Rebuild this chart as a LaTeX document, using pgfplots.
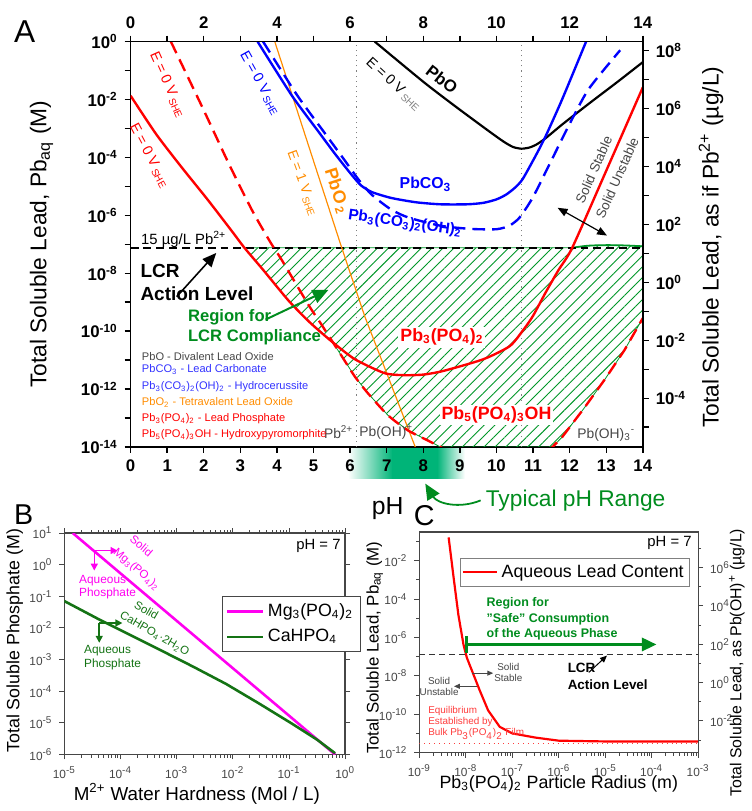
\documentclass[border=0pt]{standalone}
\usepackage{pgfplots}
\pgfplotsset{compat=1.18}
\usepackage{fontspec}
\setmainfont{Liberation Sans}
\usetikzlibrary{patterns.meta,arrows.meta}

\definecolor{cred}{RGB}{255,0,0}
\definecolor{cblue}{RGB}{0,0,255}
\definecolor{corange}{RGB}{255,140,0}
\definecolor{chatch}{RGB}{0,150,40}
\definecolor{cgreen}{RGB}{0,140,30}
\definecolor{cteal}{RGB}{0,180,120}
\definecolor{cmag}{RGB}{255,0,240}
\definecolor{cdkgreen}{RGB}{20,115,20}
\definecolor{cgray}{RGB}{70,70,70}
\definecolor{cpink}{RGB}{255,60,60}

\newcommand{\bp}[1]{\textbf{10\textsuperscript{#1}}}
\newcommand{\tp}[1]{10\textsuperscript{#1}}
\newcommand{\sub}[1]{\textsubscript{#1}}
\newcommand{\spp}[1]{\textsuperscript{#1}}
\newcommand{\fsz}[1]{\fontsize{#1}{#1}\selectfont}

\begin{document}
\begin{tikzpicture}
% pixel frame of the reference (0.5pt per px, y down)
\begin{scope}[x=0.5pt,y=-0.5pt]
\useasboundingbox (0,0) rectangle (752,811);
\shade[left color=white,right color=cteal] (350,453) rectangle (395,484);
\fill[cteal] (394.5,453) rectangle (440.5,484);
\shade[left color=cteal,right color=white] (440,453) rectangle (468,484);
\end{scope}

% ---------------- panel A ----------------
\begin{axis}[
  at={(65pt,-226pt)}, anchor=south west,
  scale only axis, width=259pt, height=205pt,
  xmin=0, xmax=14, ymin=-14, ymax=0,
  xtick={0,1,...,14},
  ytick={-14,-12,...,0}, minor ytick={-13,-11,...,-1},
  xtick pos=bottom, ytick pos=left,
  tick align=outside, major tick length=3pt, minor tick length=3pt,
  tick style={black,line width=0.7pt},
  axis line style={line width=0.8pt},
  /pgf/number format/assume math mode=true,
  tick label style={font=\fontsize{8.5}{9}\selectfont\bfseries},
  yticklabel={\bp{\pgfmathprintnumber{\tick}}},
]
% region for LCR compliance
\addplot[draw=chatch, line width=0.4pt,
  pattern={Lines[angle=45,distance=3.9pt,line width=0.45pt]}, pattern color=chatch]
  coordinates {(3.11,-7.12) (12.07,-7.12) (12.5,-7.05) (13,-7.03) (14,-7.06)
  (14,-9.55) (13.5,-10.65) (12.97,-11.65) (12.4,-12.65) (11.8,-13.65) (11.53,-14)
  (8.47,-14) (8.1,-13.76) (7.57,-13.42) (7.03,-12.9) (6.49,-12.15) (6.13,-11.57)
  (5.77,-10.86) (5.5,-10.34) (4.9,-9.7) (4.32,-8.95) (3.6,-7.85)} --cycle;
\addplot[chatch, line width=0.9pt, smooth] coordinates {(12.07,-7.12) (12.5,-7.05) (13,-7.03) (13.5,-7.04) (14,-7.07)};
% reference lines
\addplot[gray, dotted, line width=0.6pt] coordinates {(6.17,-14) (6.17,0)};
\addplot[gray, dotted, line width=0.6pt] coordinates {(10.68,-14) (10.68,0)};
\addplot[black, line width=1.1pt, dash pattern=on 4pt off 2.5pt] coordinates {(0,-7.12) (14,-7.12)};
% PbO2
\addplot[corange, line width=0.6pt] coordinates {(3.94,0) (5.77,-7.12) (6.4,-9.49) (7.78,-14) (7.85,-14.2)};
% PbO
\addplot[black, line width=1.1pt, smooth, tension=0.4] coordinates {(6.67,0) (8.02,-1.41) (8.92,-2.28) (9.82,-3.12) (10.2,-3.46) (10.45,-3.64) (10.68,-3.7) (10.9,-3.66) (11.1,-3.55) (11.35,-3.33) (11.8,-2.86) (12.52,-2.15) (13.3,-1.4) (14,-0.71)};
% PbCO3
\addplot[cblue, line width=1.2pt, smooth, tension=0.4] coordinates {(3.47,0) (4.41,-1.87) (5.14,-3.12) (5.6,-3.9) (6.04,-4.6) (6.3,-4.97) (6.6,-5.2) (7.12,-5.4) (7.8,-5.55) (8.47,-5.62) (9.2,-5.62) (9.64,-5.57) (10.0,-5.45) (10.27,-5.28) (10.52,-5.03) (10.72,-4.74) (11.08,-3.92) (11.35,-3.25) (11.8,-1.98) (12.45,0)};
% Pb3(CO3)2(OH)2
\addplot[cblue, line width=1.2pt, smooth, tension=0.4, dash pattern=on 6.5pt off 3.5pt] coordinates {(3.62,0) (4.55,-1.85) (5.3,-3.15) (5.85,-4.1) (6.25,-4.8) (6.6,-5.3) (7.12,-5.8) (7.6,-6.08) (8.47,-6.36) (9.3,-6.47) (10.0,-6.48) (10.35,-6.36) (10.63,-6.08) (10.99,-5.39) (11.44,-4.26) (11.98,-2.89) (12.52,-1.64) (13.38,-0.3)};
% Pb5(PO4)3OH
\addplot[cred, line width=1.2pt, smooth, tension=0.4, dash pattern=on 6.5pt off 3.5pt] coordinates {(1.1,0) (1.98,-2.32) (2.7,-4.26) (3.33,-5.85) (3.83,-6.95) (4.14,-7.56) (4.86,-9.09) (5.18,-9.7) (5.5,-10.33) (5.77,-10.86) (6.13,-11.57) (6.49,-12.15) (7.03,-12.9) (7.57,-13.42) (8.1,-13.76) (8.47,-14) (8.6,-14.1)};
\addplot[cred, line width=1.2pt, dash pattern=on 6.5pt off 3.5pt] coordinates {(11.4,-14.15) (11.53,-14) (11.8,-13.65) (12.4,-12.65) (12.97,-11.65) (13.5,-10.65) (14,-9.55)};
% Pb3(PO4)2
\addplot[cred, line width=1.2pt, smooth, tension=0.4] coordinates {(0,-1.87) (0.7,-3.2) (1.4,-4.35) (2.1,-5.45) (2.8,-6.6) (3.11,-7.12) (3.6,-7.85) (4.32,-8.95) (4.9,-9.7) (5.5,-10.36) (6.13,-10.97) (6.94,-11.45) (7.48,-11.52) (8.0,-11.5) (8.56,-11.37) (9.64,-10.97) (10.36,-10.52) (10.72,-9.98) (10.99,-9.49) (11.35,-8.65) (11.7,-7.88) (12.07,-7.12) (13,-4.46) (14,-1.58)};

% curve labels
\node[cred, rotate=-62, font=\fsz{7.2}] at (0.52,-3.95) {E = 0 V\,\sub{SHE}};
\node[cred, rotate=-66, font=\fsz{7.2}] at (1.02,-1.5) {E = 0 V\,\sub{SHE}};
\node[cblue, rotate=-61, font=\fsz{7.2}] at (3.55,-1.45) {E = 0 V\,\sub{SHE}};
\node[corange, rotate=-70, font=\fsz{7}] at (4.7,-4.9) {E = 1 V\,\sub{SHE}};
\node[corange, rotate=-72, font=\fsz{9}\bfseries] at (5.64,-5.17) {PbO\,\sub{2}};
\node[black, rotate=-43, font=\fsz{7.2}] at (7.2,-1.48) {E = 0 V\,\textcolor{gray}{\sub{SHE}}};
\node[black, rotate=-38, font=\fsz{8.5}\bfseries] at (8.51,-1.3) {PbO};
\node[cblue, font=\fsz{8}\bfseries] at (8.06,-4.94) {PbCO\sub{3}};
\node[cblue, rotate=-8, font=\fsz{7.8}\bfseries] at (7.5,-6.28) {Pb\sub{3}(CO\sub{3})\sub{2}(OH)\sub{2}};
\node[cgray, rotate=66, font=\fsz{6.8}] at (12.66,-4.43) {Solid Stable};
\node[cgray, rotate=66, font=\fsz{6.8}] at (13.3,-4.71) {Solid Unstable};
\draw[black, line width=0.6pt, {Triangle[length=5pt,width=4pt]}-{Triangle[length=5pt,width=4pt]}] (11.67,-5.74) -- (13.02,-6.7);
\node[anchor=west, font=\fsz{7.5}] at (0.1,-6.83) {15 µg/L Pb\spp{2+}};
\node[anchor=west, align=left, font=\fontsize{9.6}{11.5}\selectfont\bfseries] at (0.08,-8.31) {LCR\\Action Level};
\draw[black, line width=0.8pt, -{Triangle[length=7pt,width=6pt]}] (1.26,-8.81) -- (2.34,-7.3);
\node[cgreen, anchor=west, align=left, font=\fontsize{8.4}{10}\selectfont\bfseries] at (1.38,-9.87) {Region for\\LCR Compliance};
\draw[cgreen, line width=1pt, -{Triangle[length=8pt,width=7pt]}] (3.69,-9.6) -- (5.41,-8.57);
\node[cred, fill=white, inner sep=1pt, font=\fsz{9}\bfseries] at (8.51,-10.21) {Pb\sub{3}(PO\sub{4})\sub{2}};
\node[cred, fill=white, inner sep=1pt, font=\fsz{9}\bfseries] at (10.0,-12.9) {Pb\sub{5}(PO\sub{4})\sub{3}OH};
\node[cgray, anchor=east, inner sep=1pt, font=\fsz{7}] at (6.15,-13.49) {Pb\spp{2+}};
\node[cgray, anchor=west, inner sep=1pt, font=\fsz{7}] at (6.19,-13.49) {Pb(OH)\spp{+}};
\node[cgray, font=\fsz{7}] at (13.0,-13.59) {Pb(OH)\sub{3}\spp{-}};
% species list
\node[anchor=west, cgray, font=\fsz{5.6}] at (0.12,-10.86) {PbO - Divalent Lead Oxide};
\node[anchor=west, cblue!80!white, font=\fsz{5.6}] at (0.12,-11.33) {PbCO\sub{3} - Lead Carbonate};
\node[anchor=west, cblue!80!white, font=\fsz{5.6}] at (0.12,-11.92) {Pb\sub{3}(CO\sub{3})\sub{2}(OH)\sub{2} - Hydrocerussite};
\node[anchor=west, corange, font=\fsz{5.6}] at (0.12,-12.46) {PbO\sub{2} - Tetravalent Lead Oxide};
\node[anchor=west, cred, font=\fsz{5.6}] at (0.12,-13.01) {Pb\sub{3}(PO\sub{4})\sub{2} - Lead Phosphate};
\node[anchor=west, cred, font=\fsz{5.6}] at (0.12,-13.59) {Pb\sub{5}(PO\sub{4})\sub{3}OH - Hydroxypyromorphite};
\end{axis}

% top and right axes of panel A
\begin{axis}[
  at={(65pt,-226pt)}, anchor=south west,
  scale only axis, width=259pt, height=205pt,
  xmin=0, xmax=14, ymin=-5.684, ymax=8.316,
  axis x line*=top, axis y line*=right, axis line style={-,line width=0.8pt},
  xtick={0,2,...,14}, minor xtick={1,3,...,13},
  ytick={-4,-2,...,8}, minor ytick={-5,-3,...,7},
  tick align=outside, major tick length=3pt, minor tick length=3pt,
  tick style={black,line width=0.7pt},
  /pgf/number format/assume math mode=true,
  tick label style={font=\fontsize{8.5}{9}\selectfont\bfseries},
  yticklabel={\bp{\pgfmathprintnumber{\tick}}},
]
\addplot[draw=none] coordinates {(0,0)};
\end{axis}

% ---------------- panel B ----------------
\begin{axis}[
  at={(31.5pt,-381.5pt)}, anchor=south west,
  scale only axis, width=142pt, height=112pt,
  xmode=log, ymode=log, xmin=1e-5, xmax=1, ymin=1e-6, ymax=10,
  ytick={1e-6,1e-5,1e-4,1e-3,1e-2,1e-1,1,10}, yminorticks=false,
  tick align=outside, major tick length=2.5pt, minor tick length=1.5pt,
  axis line style={cgray,line width=0.7pt}, tick style={cgray,line width=0.5pt},
  tick label style={font=\fsz{6}, text=cgray},
  log number format basis/.code 2 args={\tp{\pgfmathprintnumber[assume math mode=true]{#2}}},
  legend style={at={(0.563,0.715)}, anchor=north west, draw=cgray,
    font=\fsz{9}, inner sep=1.5pt, row sep=1pt},
  legend cell align=left,
  legend image code/.code={\draw[#1] (0pt,0pt) -- (18pt,0pt);},
]
\addplot[cmag, line width=1.3pt] coordinates {(1.41e-5,10) (0.661,1e-6)};
\addlegendentry{Mg\sub{3}(PO\sub{4})\sub{2}}
\addplot[cdkgreen, line width=1.3pt] coordinates {(1e-5,0.0708) (4.47e-5,0.0174) (5.13e-4,2.0e-3) (1.95e-3,6.03e-4) (7.59e-3,1.70e-4) (0.0295,4.07e-5) (0.112,9.55e-6) (0.316,2.95e-6) (0.661,1.1e-6)};
\addlegendentry{CaHPO\sub{4}}
\end{axis}

% ---------------- panel C ----------------
\begin{axis}[
  at={(211pt,-380.5pt)}, anchor=south west,
  scale only axis, width=141pt, height=111.5pt,
  xmode=log, ymode=log, xmin=1e-9, xmax=1e-3, ymin=1e-12, ymax=0.316,
  ytick={1e-12,1e-10,1e-8,1e-6,1e-4,1e-2}, minor ytick={1e-11,1e-9,1e-7,1e-5,1e-3,1e-1},
  xtick pos=bottom, ytick pos=left,
  tick align=outside, major tick length=2.5pt, minor tick length=1.5pt,
  axis line style={cgray,line width=0.7pt}, tick style={cgray,line width=0.5pt},
  tick label style={font=\fsz{6}, text=cgray},
  log number format basis/.code 2 args={\tp{\pgfmathprintnumber[assume math mode=true]{#2}}},
  legend style={at={(0.144,0.883)}, anchor=north west, draw=gray,
    font=\fsz{9}, inner sep=1pt},
  legend image code/.code={\draw[#1] (0pt,0pt) -- (17pt,0pt);},
]
\addplot[cred, line width=1.1pt] coordinates {(4.27e-9,0.166) (5.5e-9,1.17e-3) (6.92e-9,1.51e-5) (8.91e-9,4.27e-7) (1.05e-8,8.91e-8) (1.45e-8,1.23e-8) (2.0e-8,1.7e-9) (3.02e-8,1.58e-10) (5.37e-8,2.19e-11) (1.0e-7,1.0e-11) (3.16e-7,6.03e-12) (1e-6,4.17e-12) (1e-5,3.8e-12) (1e-3,3.8e-12)};
\addlegendentry{Aqueous Lead Content}
\addplot[black!80, line width=0.6pt, dash pattern=on 3pt off 2pt, forget plot] coordinates {(1e-9,1.3e-7) (1e-3,1.3e-7)};
\addplot[cpink, line width=0.5pt, dotted, forget plot] coordinates {(1e-9,3e-12) (1e-3,3e-12)};
\end{axis}
\begin{axis}[
  at={(211pt,-380.5pt)}, anchor=south west,
  scale only axis, width=141pt, height=111.5pt,
  xmode=log, ymode=log, xmin=1e-9, xmax=1e-3, ymin=2.242e-4, ymax=7.09e7,
  axis x line=none, axis y line*=right, axis line style={-,cgray,line width=0.7pt},
  ytick={1e-2,1,1e2,1e4,1e6}, minor ytick={1e-3,1e-1,1e1,1e3,1e5,1e7},
  tick align=outside, major tick length=2.5pt, minor tick length=1.5pt,
  tick style={cgray,line width=0.5pt},
  tick label style={font=\fsz{6}, text=cgray},
  log number format basis/.code 2 args={\tp{\pgfmathprintnumber[assume math mode=true]{#2}}},
]
\addplot[draw=none] coordinates {(1e-6,1)};
\end{axis}

% ---------------- texts and arrows outside the plot data ----------------
\begin{scope}[x=0.5pt,y=-0.5pt]
\node[font=\fsz{16}] at (23,32) {A};
\node[rotate=90, font=\fsz{11.5}] at (40,247) {Total Soluble Lead, Pb\sub{aq} (M)};
\node[rotate=90, font=\fsz{11.5}] at (717,250) {Total Soluble Lead, as if Pb\spp{2+} (µg/L)};
\node[font=\fsz{12.5}] at (390,514) {pH};
\node[cgreen, font=\fsz{11.5}] at (580,506) {Typical pH Range};
\draw[cgreen, line width=0.9pt, -{Triangle[length=8pt,width=7pt]}] (484,506) .. controls (462,515) and (440,509) .. (428,489);
\node[font=\fsz{14.5}] at (22,520) {B};
\node[font=\fsz{14.5}] at (427,521) {C};
% panel B
\node[rotate=90, font=\fsz{9}] at (13,648) {Total Soluble Phosphate (M)};
\node[font=\fsz{9.5}] at (197,803) {M\spp{2+} Water Hardness (Mol / L)};
\node[font=\fsz{7.5}] at (320,552) {pH = 7};
\draw[cmag, line width=0.8pt, -{Triangle[length=3.5pt,width=3.5pt]}] (93.3,556.7) -- (116.7,556.7);
\draw[cmag, line width=0.8pt, -{Triangle[length=3.5pt,width=3.5pt]}] (93.3,556.7) -- (93.3,577);
\node[cmag, rotate=-40, inner sep=0pt, font=\fsz{5.8}] at (141,552) {Solid};
\node[cmag, rotate=-40, inner sep=0pt, font=\fsz{5.8}] at (136,576) {Mg\sub{3}(PO\sub{4})\sub{2}};
\node[cmag, anchor=west, align=left, font=\fontsize{6}{6.7}\selectfont] at (71,593.5) {Aqueous\\Phosphate};
\draw[cdkgreen, line width=0.8pt, -{Triangle[length=3.5pt,width=3.5pt]}] (98.3,630) -- (121.7,630);
\draw[cdkgreen, line width=0.8pt, -{Triangle[length=3.5pt,width=3.5pt]}] (98.3,630) -- (98.3,650);
\node[cdkgreen, rotate=-30, inner sep=0pt, font=\fsz{5.8}] at (146,617) {Solid};
\node[cdkgreen, rotate=-30, inner sep=0pt, font=\fsz{5.8}] at (154,641) {CaHPO\sub{4}·2H\sub{2}O};
\node[cdkgreen, anchor=west, align=left, font=\fontsize{6}{6.8}\selectfont] at (76,665) {Aqueous\\Phosphate};
% panel C
\node[rotate=90, font=\fsz{8.5}] at (377,655) {Total Soluble Lead, Pb\sub{aq} (M)};
\node[rotate=90, font=\fsz{8}] at (743,670) {Total Soluble Lead, as Pb(OH)\spp{+} (µg/L)};
\node[font=\fsz{9}] at (563,793) {Pb\sub{3}(PO\sub{4})\sub{2} Particle Radius (m)};
\node[font=\fsz{7.5}] at (675,549) {pH = 7};
\node[cgreen, anchor=west, align=left, font=\fontsize{6.3}{7.9}\selectfont\bfseries] at (483,626) {Region for\\"Safe" Consumption\\of the Aqueous Phase};
\draw[cgreen, line width=1.4pt] (469.3,643) -- (469.3,660);
\draw[cgreen, line width=1.8pt, -{Triangle[length=7.5pt,width=6.5pt]}] (469.3,651.7) -- (662,651.7);
\node[anchor=west, align=left, font=\fontsize{6.8}{8.2}\selectfont\bfseries] at (565,684) {LCR\\Action Level};
\draw[black, line width=0.5pt, -{Triangle[length=3.5pt,width=3pt]}] (593.3,680) -- (611.7,663);
\node[cgray, align=center, font=\fontsize{5}{5.8}\selectfont] at (512,680) {Solid\\Stable};
\draw[cgray, line width=0.5pt, -{Triangle[length=3pt,width=2.5pt]}] (475,680.7) -- (496.7,680.7);
\node[cgray, align=center, font=\fontsize{5}{5.8}\selectfont] at (442,694) {Solid\\Unstable};
\draw[cgray, line width=0.5pt, -{Triangle[length=3pt,width=2.5pt]}] (480,694) -- (457,694);
\node[cpink, anchor=west, align=left, font=\fontsize{5}{5.6}\selectfont] at (424,731) {Equilibrium\\Established by\\Bulk Pb\sub{3}(PO\sub{4})\sub{2} Film};
\end{scope}
\end{tikzpicture}
\end{document}
